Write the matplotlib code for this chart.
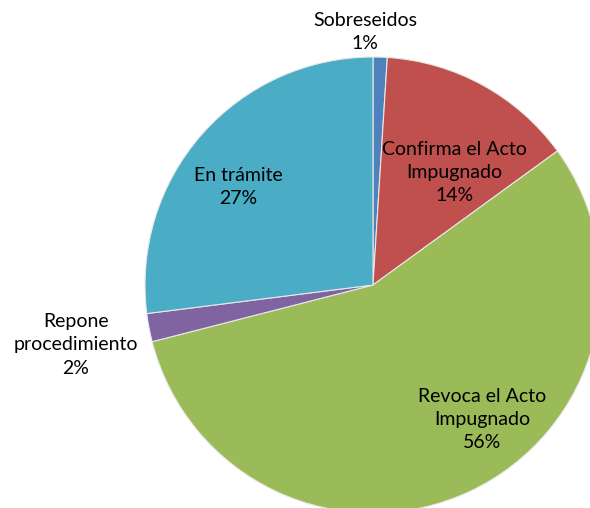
import numpy as np
import matplotlib.pyplot as plt

# Data
labels = ['Sobreseidos', 'Confirma el Acto\nImpugnado', 'Revoca el Acto\nImpugnado',
          'Repone\nprocedimiento', 'En trámite']
values = [1, 14, 56, 2, 27]
colors = ['#4F81BD', '#C0504D', '#9BBB59', '#8064A2', '#4BACC6']

# label placement (radius as fraction of pie radius, angle in degrees)
label_r = [1.11, 0.61, 0.76, 1.33, 0.73]
label_theta = [91.8, 54, -51, 191.4, 144]

plt.rcParams['font.family'] = ['Lato', 'DejaVu Sans']

fig = plt.figure(figsize=(5.9, 5.08), dpi=100)
ax = fig.add_axes([0, 0, 1, 1])

cx, cy, R = 373, 508 - 285, 228
ax.pie(values, colors=colors, startangle=90, counterclock=False,
       center=(cx, cy), radius=R,
       wedgeprops=dict(edgecolor='#E8E8E8', linewidth=0.8))

total = sum(values)
for lab, v, r, th in zip(labels, values, label_r, label_theta):
    t = np.deg2rad(th)
    x = cx + r * R * np.cos(t)
    y = cy + r * R * np.sin(t)
    ax.text(x, y, f'{lab}\n{round(100 * v / total)}%', ha='center', va='center',
            fontsize=14, color='black', linespacing=1.45)

ax.set_xlim(0, 590)
ax.set_ylim(0, 508)
ax.set_aspect('equal')
ax.axis('off')

plt.savefig('out.png', dpi=100)
